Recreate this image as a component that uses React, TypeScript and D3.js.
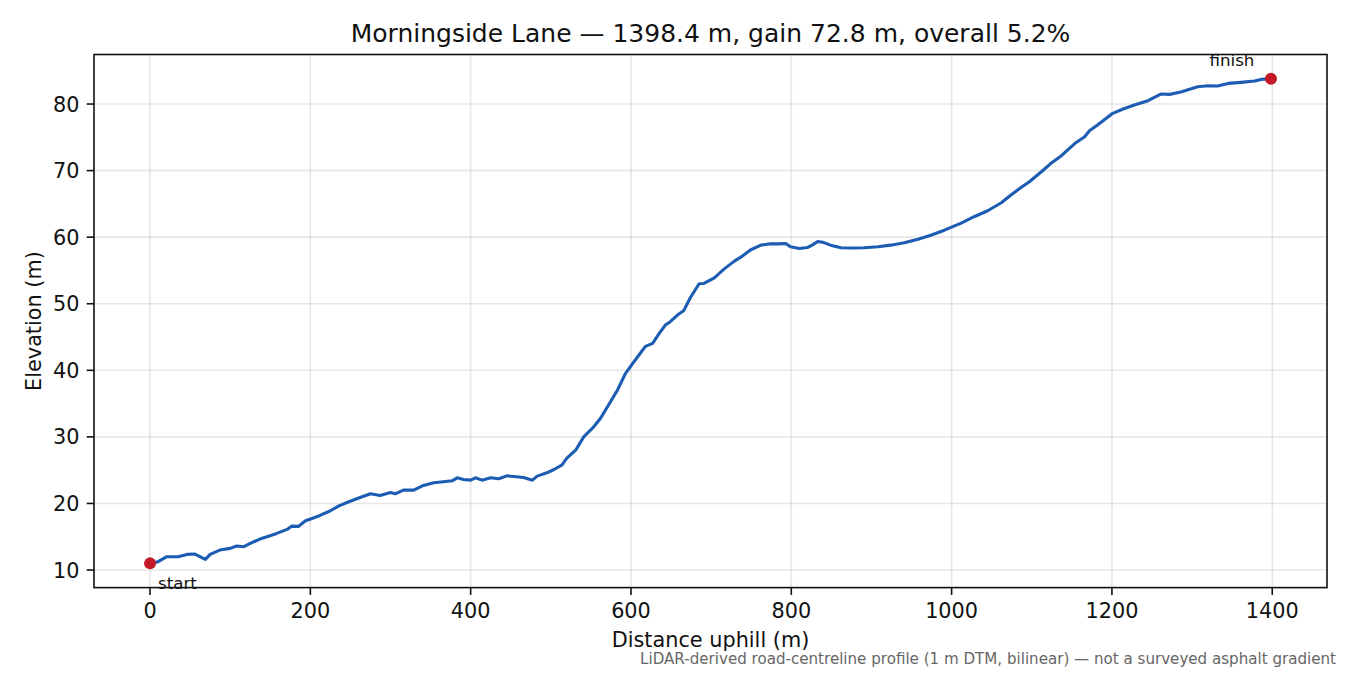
import { useEffect, useRef } from 'react'
import * as d3 from 'd3'

// distance along the road (m) and elevation (m)
const DIST = [
  0, 10, 21, 35, 46, 56, 69, 75, 87, 100, 108, 117, 125, 137, 146, 158, 171, 177, 185, 194,
  202, 212, 225, 235, 248, 262, 275, 287, 300, 306, 316, 329, 341, 354, 366, 377, 383, 391,
  400, 406, 414, 425, 435, 445, 454, 466, 477, 483, 495, 504, 514, 520, 531, 541, 552, 562,
  572, 583, 593, 602, 610, 618, 627, 635, 643, 649, 658, 666, 674, 685, 691, 704, 716, 729,
  737, 749, 762, 774, 785, 793, 799, 810, 820, 826, 833, 839, 849, 862, 874, 891, 908, 924,
  941, 958, 974, 991, 1012, 1028, 1045, 1062, 1074, 1087, 1097, 1112, 1124, 1137, 1147, 1155,
  1166, 1172, 1182, 1193, 1201, 1214, 1228, 1245, 1261, 1272, 1286, 1307, 1320, 1332, 1345,
  1361, 1378, 1386, 1398.4,
]
const ELEV = [
  11.0, 11.25, 12.0, 12.0, 12.35, 12.4, 11.6, 12.35, 13.0, 13.25, 13.6, 13.5, 14.0, 14.65, 15.0,
  15.5, 16.1, 16.6, 16.55, 17.4, 17.75, 18.2, 18.9, 19.6, 20.25, 20.9, 21.45, 21.2, 21.65, 21.45,
  22.0, 22.0, 22.7, 23.1, 23.25, 23.4, 23.85, 23.6, 23.5, 23.85, 23.5, 23.85, 23.7, 24.15, 24.05,
  23.9, 23.5, 24.1, 24.6, 25.1, 25.8, 26.8, 28.0, 30.0, 31.3, 32.8, 34.8, 37.0, 39.5, 41.0, 42.3,
  43.6, 44.05, 45.5, 46.8, 47.3, 48.3, 49.0, 50.9, 53.0, 53.05, 53.9, 55.2, 56.4, 57.0, 58.07,
  58.8, 59.0, 59.0, 59.05, 58.55, 58.3, 58.45, 58.8, 59.35, 59.25, 58.8, 58.4, 58.37, 58.4, 58.55,
  58.8, 59.15, 59.7, 60.3, 61.05, 62.1, 63.07, 63.97, 65.17, 66.33, 67.49, 68.33, 69.83, 71.09,
  72.24, 73.35, 74.19, 75.09, 75.99, 76.85, 77.86, 78.6, 79.25, 79.85, 80.5, 81.5, 81.45, 81.8,
  82.6, 82.75, 82.7, 83.1, 83.25, 83.45, 83.7, 83.8,
]
const X_TICKS = [0, 200, 400, 600, 800, 1000, 1200, 1400]
const Y_TICKS = [10, 20, 30, 40, 50, 60, 70, 80]

const TITLE = 'Morningside Lane \u2014 1398.4 m, gain 72.8 m, overall 5.2%'
const NOTE = 'LiDAR-derived road-centreline profile (1 m DTM, bilinear) \u2014 not a surveyed asphalt gradient'

const W = 1350
const H = 675
const FONT = '"DejaVu Sans", sans-serif'

export default function App() {
  const ref = useRef<SVGSVGElement>(null)

  useEffect(() => {
    if (!ref.current) return
    const svg = d3.select(ref.current)
    svg.selectAll('*').remove()

    const left = 94, right = 1327, top = 54.5, bottom = 587.6
    const pts = DIST.map((d, i) => ({ d, e: ELEV[i] }))
    const dMax = d3.max(DIST) as number
    const eMin = d3.min(ELEV) as number
    const eMax = d3.max(ELEV) as number
    const xm = dMax * 0.05
    const ym = (eMax - eMin) * 0.05

    const x = d3.scaleLinear().domain([-xm, dMax + xm]).range([left, right])
    const y = d3.scaleLinear().domain([eMin - ym, eMax + ym]).range([bottom, top])

    svg.append('rect').attr('width', W).attr('height', H).attr('fill', '#fff')

    // grid
    const grid = svg.append('g').attr('stroke', '#b0b0b0').attr('stroke-opacity', 0.3).attr('stroke-width', 1.6)
    X_TICKS.forEach(t => {
      grid.append('line').attr('x1', x(t)).attr('x2', x(t)).attr('y1', top).attr('y2', bottom)
    })
    Y_TICKS.forEach(t => {
      grid.append('line').attr('x1', left).attr('x2', right).attr('y1', y(t)).attr('y2', y(t))
    })

    // profile
    const line = d3.line<{ d: number; e: number }>().x(p => x(p.d)).y(p => y(p.e))
    svg.append('path')
      .datum(pts)
      .attr('d', line)
      .attr('fill', 'none')
      .attr('stroke', '#1c5db3')
      .attr('stroke-width', 3.1)
      .attr('stroke-linejoin', 'round')
      .attr('stroke-linecap', 'round')

    // start / finish markers
    const first = pts[0]
    const last = pts[pts.length - 1]
    ;[first, last].forEach(p => {
      svg.append('circle').attr('cx', x(p.d)).attr('cy', y(p.e)).attr('r', 6).attr('fill', '#c41a28')
    })
    svg.append('text')
      .attr('x', x(first.d) + 8).attr('y', y(first.e) + 25.5)
      .attr('font-family', FONT).attr('font-size', 16.7).attr('fill', '#111')
      .text('start')
    svg.append('text')
      .attr('x', x(last.d) - 16.5).attr('y', y(last.e) - 13)
      .attr('text-anchor', 'end')
      .attr('font-family', FONT).attr('font-size', 16.7).attr('fill', '#111')
      .text('finish')

    // frame
    svg.append('rect')
      .attr('x', left).attr('y', top)
      .attr('width', right - left).attr('height', bottom - top)
      .attr('fill', 'none').attr('stroke', '#111').attr('stroke-width', 1.6)

    // x ticks
    const xa = svg.append('g')
    X_TICKS.forEach(t => {
      xa.append('line').attr('x1', x(t)).attr('x2', x(t)).attr('y1', bottom).attr('y2', bottom + 7.3)
        .attr('stroke', '#111').attr('stroke-width', 1.6)
      xa.append('text').attr('x', x(t)).attr('y', bottom + 30.7)
        .attr('text-anchor', 'middle').attr('font-family', FONT).attr('font-size', 20.8).attr('fill', '#111')
        .text(d3.format('d')(t))
    })
    // y ticks
    const ya = svg.append('g')
    Y_TICKS.forEach(t => {
      ya.append('line').attr('x1', left - 7.3).attr('x2', left).attr('y1', y(t)).attr('y2', y(t))
        .attr('stroke', '#111').attr('stroke-width', 1.6)
      ya.append('text').attr('x', left - 14.6).attr('y', y(t) + 7.6)
        .attr('text-anchor', 'end').attr('font-family', FONT).attr('font-size', 20.8).attr('fill', '#111')
        .text(d3.format('d')(t))
    })

    // labels
    svg.append('text')
      .attr('x', (left + right) / 2).attr('y', 647)
      .attr('text-anchor', 'middle').attr('font-family', FONT).attr('font-size', 20.8).attr('fill', '#111')
      .text('Distance uphill (m)')
    svg.append('text')
      .attr('transform', `translate(41,${(top + bottom) / 2}) rotate(-90)`)
      .attr('text-anchor', 'middle').attr('font-family', FONT).attr('font-size', 20.8).attr('fill', '#111')
      .text('Elevation (m)')
    svg.append('text')
      .attr('x', (left + right) / 2).attr('y', 42)
      .attr('text-anchor', 'middle').attr('font-family', FONT).attr('font-size', 25).attr('fill', '#111')
      .text(TITLE)
    svg.append('text')
      .attr('x', 1336).attr('y', 664)
      .attr('text-anchor', 'end').attr('font-family', FONT).attr('font-size', 15.1).attr('fill', '#666')
      .text(NOTE)
  }, [])

  return <svg ref={ref} width={W} height={H} style={{ display: 'block', position: 'absolute', left: 0, top: 0 }} />
}
